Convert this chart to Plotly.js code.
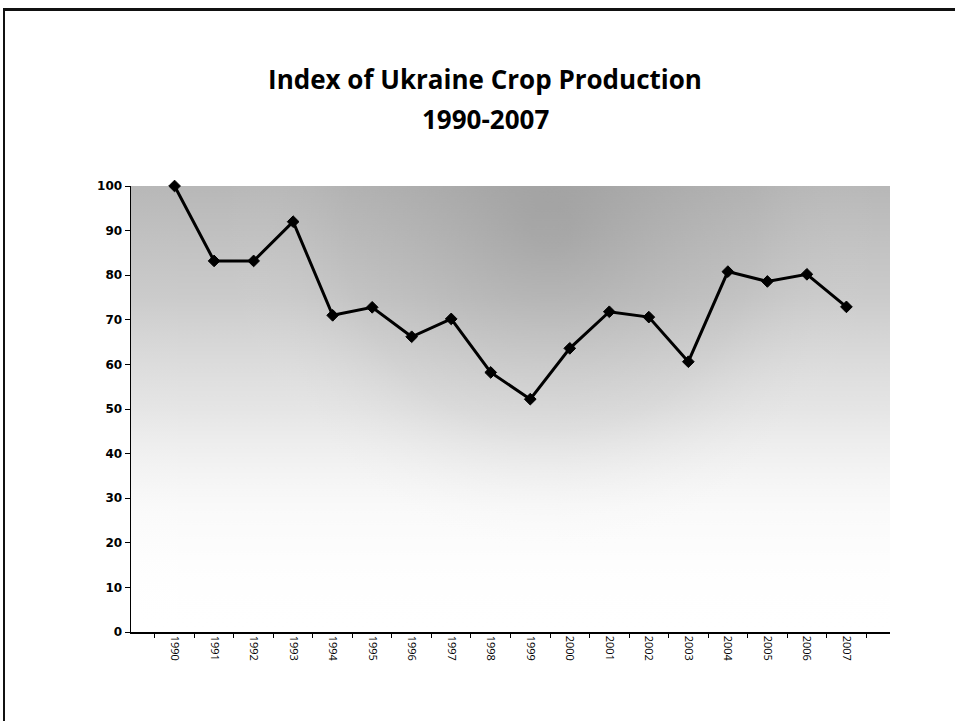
<!DOCTYPE html>
<html>
<head>
<meta charset="utf-8">
<script src="https://cdn.plot.ly/plotly-3.0.1.min.js"></script>
<style>
  html, body { margin: 0; padding: 0; background: #fff; }
  #frame { position: absolute; left: 3px; top: 8px; width: 955px; height: 720px;
           border-left: 2px solid #111; border-top: 3px solid #111; box-sizing: border-box; }
  #chart { position: absolute; left: 0; top: 0; width: 955px; height: 721px; }
</style>
</head>
<body>
<div id="frame"></div>
<div id="chart"></div>
<script>
// ---- data ----
const years = ["1990","1991","1992","1993","1994","1995","1996","1997","1998",
               "1999","2000","2001","2002","2003","2004","2005","2006","2007"];
const cropIndex = [100, 83.2, 83.2, 92.0, 71.0, 72.8, 66.2, 70.2, 58.2,
                   52.2, 63.6, 71.8, 70.6, 60.6, 80.8, 78.6, 80.2, 72.9];
const titleLine1 = "Index of Ukraine Crop Production";
const titleLine2 = "1990-2007";

// ---- background shading (scanned grey gradient) ----
function makeBackground() {
  const c = document.createElement("canvas");
  c.width = 760; c.height = 446;
  const g = c.getContext("2d");
  g.fillStyle = "#ffffff";
  g.fillRect(0, 0, c.width, c.height);
  const lin = g.createLinearGradient(0, 0, 0, c.height);
  lin.addColorStop(0.0, "rgba(125,125,125,0.55)");
  lin.addColorStop(0.25, "rgba(140,140,140,0.45)");
  lin.addColorStop(0.5, "rgba(170,170,170,0.30)");
  lin.addColorStop(0.72, "rgba(200,200,200,0.10)");
  lin.addColorStop(1.0, "rgba(255,255,255,0)");
  g.fillStyle = lin;
  g.fillRect(0, 0, c.width, c.height);
  const rad = g.createRadialGradient(420, 40, 20, 420, 40, 330);
  rad.addColorStop(0, "rgba(110,110,110,0.30)");
  rad.addColorStop(0.6, "rgba(140,140,140,0.12)");
  rad.addColorStop(1, "rgba(255,255,255,0)");
  g.fillStyle = rad;
  g.fillRect(0, 0, c.width, c.height);
  return c.toDataURL("image/png");
}

const titleFont = { family: "'Open Sans', Lato, sans-serif", size: 26, color: "#000", weight: "bold" };

const trace = {
  type: "scatter",
  mode: "lines+markers",
  x: years,
  y: cropIndex,
  line: { color: "#000000", width: 3 },
  marker: { symbol: "diamond", size: 9, color: "#000000", line: { color: "#000000", width: 1 } },
  cliponaxis: false,
  hoverinfo: "x+y",
  showlegend: false
};

const layout = {
  width: 955,
  height: 721,
  margin: { l: 131, r: 65, t: 186, b: 89 },
  paper_bgcolor: "rgba(0,0,0,0)",
  plot_bgcolor: "rgba(0,0,0,0)",
  font: { family: "'Open Sans', sans-serif", color: "#000" },
  title: {
    text: titleLine1,
    font: titleFont,
    x: 485 / 955, xref: "container", xanchor: "center",
    y: 1 - 89 / 721, yref: "container", yanchor: "bottom", pad: { t: 0, b: 0, l: 0, r: 0 }
  },
  annotations: [{
    text: titleLine2,
    font: titleFont,
    xref: "paper", yref: "paper",
    x: (485 - 131) / 759, xanchor: "center",
    y: (632 - 119) / 446, yanchor: "middle",
    showarrow: false
  }],
  xaxis: {
    type: "category",
    showline: true, linecolor: "#000", linewidth: 1.5,
    showgrid: false, zeroline: false,
    ticks: "outside", ticklen: 4, tickcolor: "#000", tickwidth: 1,
    tickson: "boundaries",
    tickangle: 90,
    tickfont: { family: "'Open Sans', sans-serif", size: 11, color: "#000" }
  },
  yaxis: {
    range: [0, 100], dtick: 10, tick0: 0,
    showline: true, linecolor: "#000", linewidth: 1.5,
    showgrid: false, zeroline: false,
    ticks: "outside", ticklen: 5, tickcolor: "#000", tickwidth: 1,
    tickfont: { family: "'DejaVu Sans', sans-serif", size: 12, color: "#000", weight: "bold" }
  },
  images: [{
    source: makeBackground(),
    xref: "paper", yref: "paper",
    x: 0, y: 1, sizex: 1, sizey: 1,
    sizing: "stretch", xanchor: "left", yanchor: "top",
    layer: "below"
  }]
};

Plotly.newPlot("chart", [trace], layout, { displayModeBar: false, staticPlot: true });
</script>
</body>
</html>
